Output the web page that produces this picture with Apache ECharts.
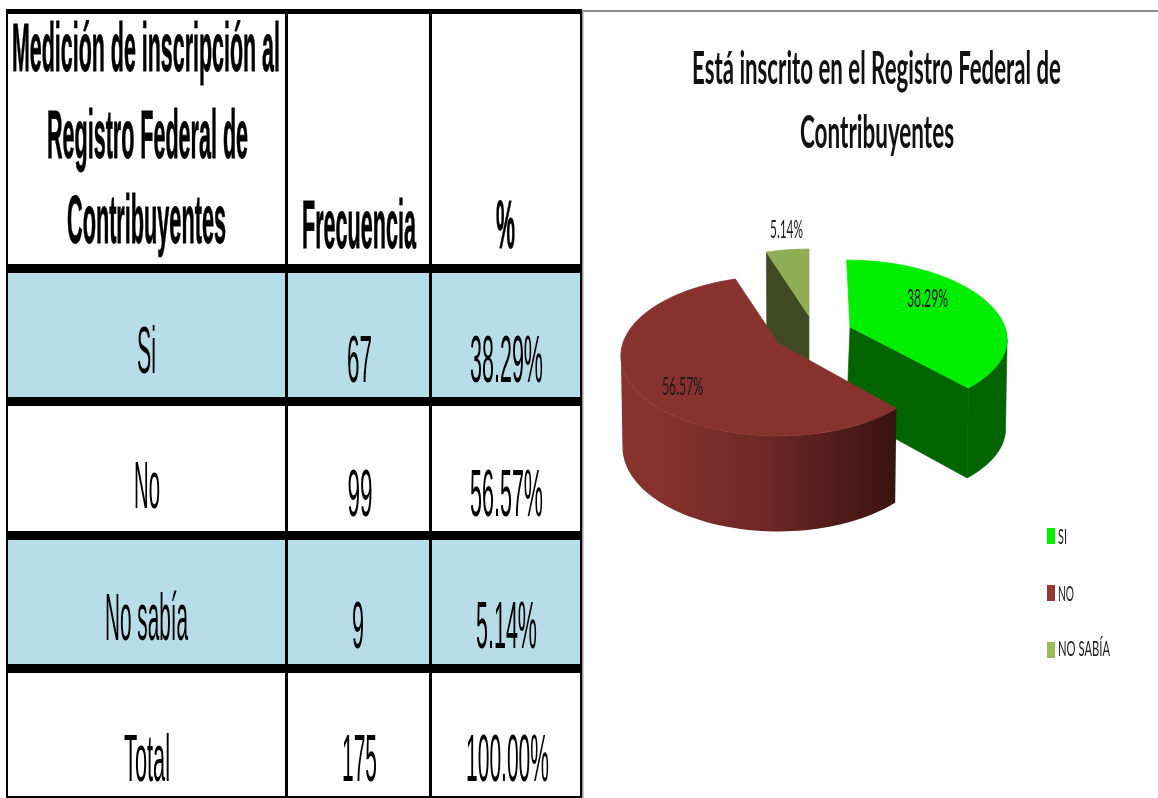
<!DOCTYPE html>
<html><head><meta charset="utf-8">
<style>html,body{margin:0;padding:0;background:#fff}#c{width:1158px;height:798px}</style>
<script src="https://cdn.jsdelivr.net/npm/echarts@6/dist/echarts.min.js"></script>
</head><body><div id="c"></div>
<script>
// ---- data ----
var chartTitle = ['Está inscrito en el Registro Federal de', 'Contribuyentes'];
var categories = ['SI', 'NO', 'NO SABÍA'];
var frequencies = [67, 99, 9];
var percentLabels = ['38.29%', '56.57%', '5.14%'];
var tableHeader = [['Medición de inscripción al', 'Registro Federal de', 'Contribuyentes'], 'Frecuencia', '%'];
var rowNames = ['Si', 'No', 'No sabía', 'Total'];
var rowFreq = ['67', '99', '9', '175'];
var rowPct = ['38.29%', '56.57%', '5.14%', '100.00%'];

// ---- layout / style ----
var F = 'Liberation Sans';
var measure = document.createElement('canvas').getContext('2d');
function fit(text, cx, base, w, size, weight, family, fill) {
  var fam = family || F, wt = weight || 'normal';
  measure.font = wt + ' ' + size + 'px ' + fam;
  var mw = measure.measureText(text).width;
  return { x: cx, y: base - 0.27 * size, scaleX: w / mw, text: text, size: size, weight: wt, family: fam, fill: fill || '#000' };
}
function tStyle(o) {
  return { text: o.text, fontSize: o.size, fontWeight: o.weight, fontFamily: o.family, fill: o.fill, align: 'center', verticalAlign: 'middle' };
}
function gText(o, z, heavy) {
  var st = tStyle(o);
  if (heavy) { st.stroke = o.fill; st.lineWidth = heavy; }
  return { type: 'text', x: o.x, y: o.y, scaleX: o.scaleX, scaleY: 1, z: z || 10, style: st };
}
function rect(x, y, w, h, fill, z) {
  return { type: 'rect', shape: { x: x, y: y, width: w, height: h }, style: { fill: fill }, z: z || 5, silent: true };
}
var g = [];
// band fills
[[273, 397], [540, 664]].forEach(function (b) { g.push(rect(7, b[0], 574, b[1] - b[0], '#b7dde8', 1)); });
// rules
g.push(rect(6, 9, 576, 5, '#000'));
[[264, 9], [397, 9], [531, 9], [664, 9]].forEach(function (r) { g.push(rect(6, r[0], 576, r[1], '#000')); });
g.push(rect(6, 796, 576, 2, '#000'));
[[6, 2], [285, 3], [429, 3], [580, 2]].forEach(function (r) { g.push(rect(r[0], 9, r[1], 789, '#000')); });
g.push(rect(582, 10, 576, 2, '#8c8c8c'));
g.push(rect(582, 10, 1.5, 788, '#9a9a9a'));
// header
var hdrGeom = [[146, 71, 268], [147.5, 158, 201], [146.5, 243, 159]];
tableHeader[0].forEach(function (t, i) { var h = hdrGeom[i]; g.push(gText(fit(t, h[0], h[1], h[2], 69, 'bold'), 10, 0.8)); });
g.push(gText(fit(tableHeader[1], 359, 248, 114, 69, 'bold'), 10, 0.8));
g.push(gText(fit(tableHeader[2], 505.5, 248, 19, 69, 'bold'), 10, 0.8));
// rows
var nameGeom = [[146.5, 373, 19], [147, 508, 26], [146.5, 640, 83], [147, 781, 46]];
var freqGeom = [[359.5, 382, 25], [360, 516, 25], [358, 648, 12], [359.5, 781, 35]];
var pctGeom = [[506.5, 382, 73], [506.5, 516, 73], [506.5, 648, 61], [507.5, 781, 83]];
rowNames.forEach(function (t, i) { var h = nameGeom[i]; g.push(gText(fit(t, h[0], h[1], h[2], 67))); });
rowFreq.forEach(function (t, i) { var h = freqGeom[i]; g.push(gText(fit(t, h[0], h[1], h[2], 67))); });
rowPct.forEach(function (t, i) { var h = pctGeom[i]; g.push(gText(fit(t, h[0], h[1], h[2], 67))); });
// chart title
g.push(gText(fit(chartTitle[0], 876.5, 82, 369, 46, 'bold', 'Lato', '#111')));
g.push(gText(fit(chartTitle[1], 877, 146, 154, 46, 'bold', 'Lato', '#111')));
// legend labels
var legendGeom = [[1062.5, 543, 9], [1066, 600, 16], [1084, 655, 52]];
categories.forEach(function (t, i) { var h = legendGeom[i]; g.push(gText(fit(t, h[0], h[1], h[2], 22, 'normal', 'Lato', '#222'))); });

// 3D pie, projected from data values
var RX = 155, RY = 77.8, K = 0.163;
var total = frequencies.reduce(function (a, b) { return a + b; }, 0);
var silR = Math.acos(-K) * 180 / Math.PI;
var silL = 360 - silR;
var sliceStyles = [
  { apex: [850, 327], top: '#00ee00', wall: '#006400', endWall: '#006400', legend: '#00f000', label: [927.5, 306, 41], skew: 3.3, side: 'end', z: 2, frontY: 0.93, depth: 90 },
  { apex: [778, 343], top: '#88322f', wall: null, endWall: null, legend: '#953735', label: [682.5, 394, 41], skew: 0, side: null, z: 3, frontY: 1, depth: 90 },
  { apex: [809, 316], top: '#8fae55', wall: '#3f4a22', endWall: '#3f4a22', legend: '#9bbb59', label: [786.5, 237, 33], skew: 0, side: 'start', z: 2, frontY: 1, depth: 90 }
];
function topPt(st, deg) {
  var a = deg * Math.PI / 180, u = Math.sin(a), v = -Math.cos(a), s = 1 / (1 - K * v);
  return [st.apex[0] + RX * u * s + (v < 0 ? st.skew * v : 0), st.apex[1] + RY * v * s * (v > 0 ? st.frontY : 1)];
}
function botPt(st, deg) {
  var p = topPt(st, deg), a = deg * Math.PI / 180, v = -Math.cos(a);
  var dz = st.frontY < 1 ? 0 : 5.5 * v;
  return [st.apex[0] + 0.99 * (p[0] - st.apex[0]), p[1] + st.depth + dz];
}
function arc(fn, st, a0, a1) {
  var pts = [], n = Math.max(2, Math.ceil((a1 - a0) / 2));
  for (var i = 0; i <= n; i++) pts.push(fn(st, a0 + (a1 - a0) * i / n));
  return pts;
}
function makeRender(idx) {
  return function (params, api) {
    var st = sliceStyles[idx], before = 0;
    for (var i = 0; i < idx; i++) before += frequencies[i];
    var a0 = before / total * 360, a1 = (before + api.value(0)) / total * 360;
    var base = [st.apex[0] - st.skew, st.apex[1] + 85];
    var kids = [];
    if (st.side) {
      var ang = st.side === 'end' ? a1 : a0;
      kids.push({ type: 'polygon', shape: { points: [st.apex, topPt(st, ang), botPt(st, ang), base] },
        style: { fill: st.endWall, stroke: st.endWall, lineWidth: 0.6 } });
    }
    var w0 = Math.max(a0, silR), w1 = Math.min(a1, silL);
    if (w1 > w0) {
      var wallPts = arc(topPt, st, w0, w1).concat(arc(botPt, st, w0, w1).reverse());
      var wallFill = st.wall || new echarts.graphic.LinearGradient(0, 0, 1, 0, [
        { offset: 0, color: '#88322f' }, { offset: 0.12, color: '#88322f' }, { offset: 0.55, color: '#6a2725' }, { offset: 1, color: '#38130f' }]);
      kids.push({ type: 'polygon', shape: { points: wallPts },
        style: { fill: wallFill, stroke: st.wall || null, lineWidth: st.wall ? 0.6 : 0 } });
    }
    kids.push({ type: 'polygon', shape: { points: [st.apex].concat(arc(topPt, st, a0, a1)) },
      style: { fill: st.top, stroke: st.top, lineWidth: 0.8 } });
    var lb = fit(percentLabels[idx], st.label[0], st.label[1], st.label[2], 25, 'normal', 'Lato', '#1a1a1a');
    kids.push({ type: 'text', x: lb.x, y: lb.y, scaleX: lb.scaleX, style: tStyle(lb) });
    return { type: 'group', children: kids };
  };
}
var series = categories.map(function (name, i) {
  return { type: 'custom', name: name, coordinateSystem: 'none', z: sliceStyles[i].z, silent: true,
    itemStyle: { color: sliceStyles[i].legend },
    data: [[frequencies[i]]], renderItem: makeRender(i), animation: false };
});
var chart = echarts.init(document.getElementById('c'), null, { renderer: 'canvas', width: 1158, height: 798 });
chart.setOption({
  backgroundColor: '#fff',
  animation: false,
  legend: { orient: 'vertical', left: 1047, top: 528, itemWidth: 8, itemHeight: 16, itemGap: 41, padding: 0,
    icon: 'rect', data: categories, selectedMode: false, formatter: function () { return ' '; },
    textStyle: { fontSize: 12, color: '#222' } },
  graphic: { elements: g },
  series: series
});
</script></body></html>
